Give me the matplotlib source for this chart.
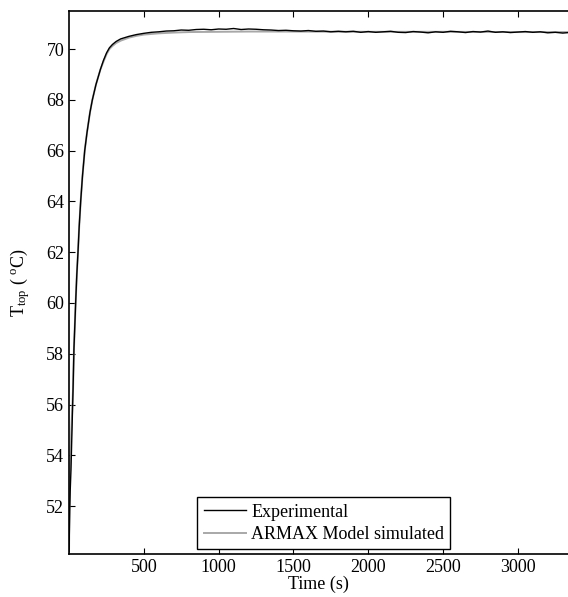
import matplotlib
matplotlib.use("Agg")
import matplotlib.pyplot as plt
import numpy as np

plt.rcParams['font.family'] = ['Liberation Serif', 'DejaVu Serif']
plt.rcParams['mathtext.fontset'] = 'custom'
plt.rcParams['mathtext.rm'] = 'Liberation Serif'
plt.rcParams['mathtext.it'] = 'Liberation Serif:italic'

# experimental run
t_exp = [0, 5, 8, 13, 20, 27, 33, 40, 45, 52, 60, 68, 78, 90, 105, 120, 140, 156, 180, 210, 230, 251, 270, 290,
         315, 345, 400, 450,
         500, 550, 600, 650, 700, 750, 800, 850, 900, 950, 1000, 1050, 1100, 1150, 1200, 1250, 1300, 1350, 1400,
         1450, 1500, 1550, 1600, 1650, 1700, 1750, 1800, 1850, 1900, 1950, 2000, 2050, 2100, 2150, 2200, 2250,
         2300, 2350, 2400, 2450, 2500, 2550, 2600, 2650, 2700, 2750, 2800, 2850, 2900, 2950, 3000, 3050, 3100,
         3150, 3200, 3250, 3300, 3340]
T_exp = [50.2, 51.9, 52.6, 53.4, 55.0, 56.6, 58.2, 59.3, 60.1, 61.1, 62.0, 63.0, 64.0, 65.0, 66.0, 66.7, 67.5, 68.0,
         68.6, 69.2, 69.55, 69.85, 70.05, 70.18, 70.3, 70.4, 70.5, 70.57,
         70.62, 70.66, 70.68, 70.71, 70.72, 70.75, 70.74, 70.77, 70.78, 70.76, 70.79, 70.78, 70.81, 70.77, 70.79,
         70.78, 70.76, 70.75, 70.73, 70.74, 70.72, 70.71, 70.73, 70.70, 70.71, 70.68, 70.70, 70.68, 70.70, 70.66,
         70.69, 70.66, 70.68, 70.70, 70.66, 70.65, 70.69, 70.67, 70.64, 70.68, 70.66, 70.70, 70.68, 70.65, 70.69,
         70.67, 70.71, 70.66, 70.68, 70.65, 70.67, 70.69, 70.66, 70.68, 70.64, 70.66, 70.63, 70.65]

# ARMAX model simulated
t_mod = [0, 5, 10, 15, 20, 27, 33, 40, 45, 52, 60, 68, 78, 90, 105, 120, 140, 156, 180, 210, 230, 251, 270, 290,
         315, 345, 400, 450, 500, 600, 700, 800, 1000, 1200, 1500, 2000, 2500, 3000, 3340]
T_mod = [50.2, 52.8, 54.0, 54.9, 55.6, 56.6, 58.2, 59.3, 60.1, 61.1, 62.0, 63.0, 64.0, 65.0, 66.0, 66.7, 67.5,
         68.0, 68.6, 69.2, 69.5, 69.8, 70.0, 70.12, 70.24, 70.33, 70.45, 70.52, 70.57, 70.62, 70.65, 70.67,
         70.68, 70.69, 70.69, 70.68, 70.68, 70.67, 70.67]

fig = plt.figure(figsize=(5.68, 5.97), dpi=100)
ax = fig.add_axes([0.1215, 0.0715, 0.8785, 0.9101])

h2, = ax.plot(t_mod, T_mod, color='#a8a8a8', lw=1.4, label='ARMAX Model simulated')
h1, = ax.plot(t_exp, T_exp, color='black', lw=1.0, label='Experimental')

ax.set_xlim(0, 3335)
ax.set_ylim(50.1, 71.5)
ax.set_xticks([500, 1000, 1500, 2000, 2500, 3000])
ax.set_yticks(np.arange(52, 71, 2))
ax.tick_params(direction='in', top=True, right=False, length=4, labelsize=13, width=0.8)
ax.spines['right'].set_visible(False)
for s in ['left', 'bottom', 'top']:
    ax.spines[s].set_linewidth(1.2)

ax.set_xlabel('Time (s)', fontsize=13, labelpad=0)
ax.set_ylabel(r'T$_{\mathrm{top}}$ ( $^{\mathrm{o}}$C)', fontsize=13, labelpad=10)

leg = ax.legend(handles=[h1, h2], loc='lower left', bbox_to_anchor=(0.257, 0.009), fontsize=13,
                fancybox=False, edgecolor='black', framealpha=1, borderpad=0.35, labelspacing=0.3,
                handlelength=2.35, handletextpad=0.28, borderaxespad=0)
leg.get_frame().set_linewidth(1.0)

fig.savefig('out.png', dpi=100)
